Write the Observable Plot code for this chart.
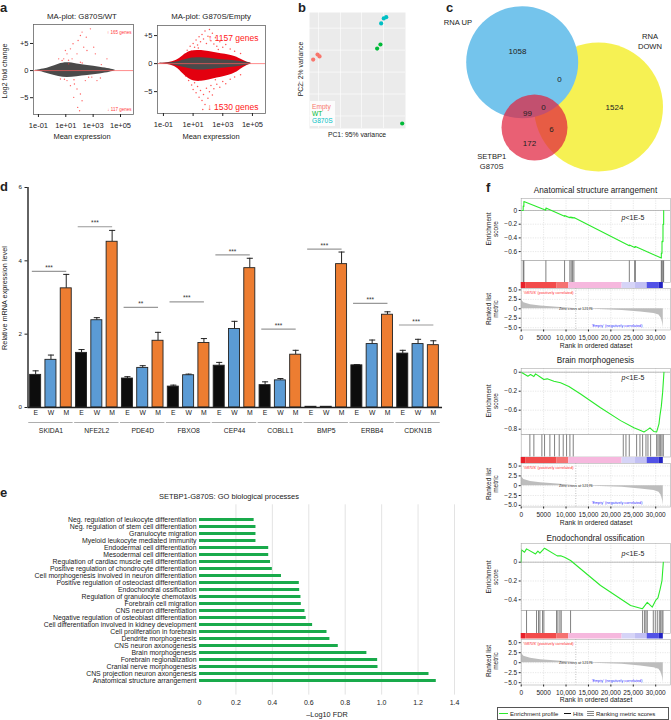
<!DOCTYPE html>
<html><head><meta charset="utf-8">
<script src="https://cdn.jsdelivr.net/npm/d3@7"></script>
<script src="https://cdn.jsdelivr.net/npm/@observablehq/plot@0.6"></script>
<style>
html,body{margin:0;padding:0;background:#fff;}
#root{position:relative;width:671px;height:720px;overflow:hidden;font-family:Arial,"Liberation Sans",Helvetica,sans-serif;color:#222;}
.lbl{position:absolute;white-space:nowrap;line-height:1;}
</style></head><body><div id="root"></div>
<script>
// ---------------- DATA ----------------
// a: MA plots (x = log10 mean expression, y = log2 fold change)
const maLeftLog = [-1.22, -0.6, -0.12, 0.48, 1.09, 1.82, 2.55, 3.53, 4.26, 4.62];
const maLeftHi  = [0.05, 0.25, 0.62, 1.23, 1.54, 1.23, 0.93, 0.62, 0.31, 0.05];
const maLeftLo  = [-0.05, -0.3, -0.74, -1.11, -1.36, -1.11, -0.93, -0.62, -0.31, -0.05];
const maLeftRedLog = [1.53,1.90,2.07,2.19,2.80,1.46,1.09,0.97,1.82,1.34,2.31,2.55,3.04,0.85,0.73,1.63,1.82,2.07,2.19,1.87,1.58,1.09,1.34,2.43,3.28,3.53,3.16,4.01,2.50,0.48,0.61,2.01,2.67,1.21,2.07,1.2,1.6,2.2,2.9,0.9,3.6];
const maLeftRedFC  = [4.94,5.56,6.48,7.1,7.7,2.16,3.09,3.7,3.09,4.01,4.32,3.7,4.32,2.16,1.85,-2.47,-3.40,-4.32,-5.56,-6.79,-4.94,-1.85,-2.78,-1.85,-1.85,-1.36,3.09,2.16,6.17,2.16,-1.54,-7.4,-1.24,1.24,1.54,1.9,-1.7,1.4,-1.2,-1.6,1.1];
const maRightLog    = [-1.42, -0.7, -0.08, 0.3, 0.82, 1.49, 2.62, 3.74, 4.2, 4.6, 4.9];
const maRightRedHi  = [0.03, 0.1, 0.5, 1.4, 2.32, 2.44, 1.85, 1.43, 0.8, 0.3, 0.08];
const maRightRedLo  = [-0.03, -0.1, -0.6, -1.8, -3.04, -3.33, -2.56, -1.96, -1.0, -0.35, -0.08];
const maRightGrayHi = [0.03, 0.08, 0.24, 0.6, 1.0, 1.13, 0.77, 0.54, 0.4, 0.25, 0.06];
const maRightGrayLo = [-0.03, -0.1, -0.36, -0.65, -0.95, -1.25, -0.89, -0.66, -0.45, -0.28, -0.06];
const maRightRedLog = [0.6,0.8,1.0,1.1,1.2,1.3,1.4,1.5,1.6,1.7,1.8,1.9,2.0,2.1,2.2,2.3,2.4,2.5,2.6,2.8,3.0,3.2,3.5,3.8,4.2,0.9,1.35,2.7,
  0.5,0.7,0.9,1.0,1.1,1.2,1.3,1.4,1.5,1.6,1.7,1.8,1.9,2.0,2.1,2.2,2.3,2.4,2.6,2.8,3.0,3.2,3.5,3.8,4.2,1.65,2.5,1.05];
const maRightRedFC  = [2.4,3.1,3.6,2.9,4.2,3.3,4.8,3.9,5.2,4.4,5.8,3.6,4.9,6.1,4.1,5.4,3.5,4.6,3.1,3.9,2.9,3.4,2.6,2.2,1.8,2.2,2.8,2.5,
  -2.2,-3.0,-3.8,-4.6,-3.4,-5.2,-4.1,-6.0,-4.8,-6.6,-5.5,-7.3,-4.4,-6.2,-5.0,-3.9,-5.6,-4.5,-3.7,-4.2,-3.2,-3.6,-2.8,-2.4,-2.0,-8.2,-2.9,-2.6];

// b: PCA
const pcaGroup = ["Empty","Empty","Empty","WT","WT","WT","G870S","G870S","G870S"];
const pc1 = [-65.8, -60.8, -58.5, 7.5, 11.3, 36.2, 12.1, 15.1, 17.9];
const pc2 = [-3.0, -1.4, -2.0, 0.5, 1.8, -23.4, 8.5, 10.1, 10.5];
const pcaGroups = ["Empty","WT","G870S"];
const pcaGridX = [-59.7, -34.5, -10.4, 14.8];
const pcaGridY = [7, 0, -7, -14, -21];

// c: Venn
const vennSets = ["RNA UP", "SETBP1 G870S", "RNA DOWN"];
const vennCounts = [1058, 0, 1524, 99, 0, 6, 172];

// d: qPCR bars
const genes = ["SKIDA1","NFE2L2","PDE4D","FBXO8","CEP44","COBLL1","BMP5","ERBB4","CDKN1B"];
const conditions = ["E","W","M"];
const exprE = [0.89, 1.49, 0.79, 0.57, 1.14, 0.61, 0.02, 1.15, 1.47];
const errE  = [1.00, 1.58, 0.84, 0.61, 1.23, 0.70, 0.02, 1.17, 1.56];
const exprW = [1.30, 2.38, 1.08, 0.88, 2.14, 0.74, 0.02, 1.73, 1.73];
const errW  = [1.43, 2.45, 1.14, 0.91, 2.35, 0.79, 0.02, 1.84, 1.86];
const exprM = [3.25, 4.52, 1.82, 1.76, 3.80, 1.44, 3.91, 2.53, 1.70];
const errM  = [3.63, 4.83, 2.05, 1.88, 4.07, 1.56, 4.24, 2.61, 1.82];
const sigStars = ["***","***","**","***","***","***","***","***","***"];
const sigLevel = [3.71, 4.93, 2.73, 2.88, 4.16, 2.14, 4.32, 2.84, 2.25];

// e: GO terms
const goTerms = ["Neg. regulation of leukocyte differentiation","Neg. regulation of stem cell differentiation","Granulocyte migration","Myeloid leukocyte mediated immunity","Endodermal cell differentiation","Mesodermal cell differentiation","Regulation of cardiac muscle cell differentiation","Positive regulation of chondrocyte differentiation","Cell morphogenesis involved in neuron differentiation","Positive regulation of osteoclast differentiation","Endochondral ossification","Regulation of granulocyte chemotaxis","Forebrain cell migration","CNS neuron differentiation","Negative regulation of osteoblast differentiation","Cell differentiation involved in kidney development","Cell proliferation in forebrain","Dendrite morphogenesis","CNS neuron axonogenesis","Brain morphogenesis","Forebrain regionalization","Cranial nerve morphogenesis","CNS projection neuron axongenesis","Anatomical structure arrangement"];
const goValues = [0.30,0.31,0.31,0.31,0.38,0.38,0.39,0.40,0.45,0.548,0.55,0.557,0.559,0.579,0.586,0.621,0.70,0.716,0.762,0.919,0.978,0.98,1.26,1.30];

// f: GSEA
const gseaTitles = ["Anatomical structure arrangement","Brain morphogenesis","Enodochondral ossification"];
const es1Rank  = [0,440,450,595,600,5500,5510,9670,9680,10860,10870,11160,11170,11460,11470,11750,11760,24120,24130,25310,25320,25460,25470,31250,31260,31400,31410,31620,31630,31770,31780];
const es1Score = [0,0,0.065,0.06,0.13,0.005,0.035,-0.085,-0.075,-0.105,-0.095,-0.107,-0.097,-0.11,-0.1,-0.112,-0.102,-0.515,-0.505,-0.54,-0.53,-0.535,-0.525,-0.695,-0.62,-0.625,-0.45,-0.455,-0.2,-0.205,0];
const hits1 = [446,595,5506,9672,10862,11160,11458,11755,24120,25310,25460,31250,31400,31620,31770];
const es2Rank  = [0,1490,2080,2830,3200,4315,5060,5800,7290,8780,10640,13240,17700,22170,25150,26640,27380,28120,28720,29610,30200,30730,30950,31250,31550,31840];
const es2Score = [0,-0.042,-0.025,-0.046,-0.018,-0.053,-0.077,-0.07,-0.095,-0.112,-0.15,-0.23,-0.375,-0.51,-0.586,-0.614,-0.63,-0.607,-0.586,-0.625,-0.63,-0.544,-0.456,-0.36,-0.21,0];
const hits2 = [1934,2827,4613,5208,6398,7440,8482,9374,10118,10862,11606,22766,23362,24106,25742,26486,27082,27826,28272,28867,30206,30504,30802,31099,31397,31694];
const es3Rank  = [0,80,744,1190,3200,3720,4170,4690,5210,7660,8040,8930,9670,11010,17700,24400,27010,28120,29240,29980,30500,30950,31400,31700];
const es3Score = [0,0.131,0.106,0.142,0.088,0.117,0.096,0.124,0.149,0.078,0.067,0.067,0.053,0.018,-0.248,-0.46,-0.496,-0.428,-0.478,-0.407,-0.379,-0.294,-0.195,0];
const hits3 = [1190,3422,3869,4166,4762,5059,7886,8184,8630,8928,11011,27082,27528,27826,28123,29462,29909,30355,30802,31099,31397,31620];
const metricRank  = [0,595,2083,4315,8035,11755,12176,16000,22540,26635,29610,30730,31250,31545,31690];
const metricValue = [2.4,1.6,1.08,0.75,0.42,0.08,0,-0.12,-0.42,-0.83,-1.25,-1.67,-2.5,-3.75,-5.0];
const zeroCross = 12176;
const bandStart = [0,1000,8000,10600,22500,25500,28100,30800];
const bandEnd   = [1000,8000,10600,22500,25500,28100,30800,31700];
const bandColor = ["#E8202A","#F24B4B","#F57272","#F6B8DE","#D6D4F7","#C2C0F3","#5252E6","#2222C2"];
const rankTicks = [0,5000,10000,15000,20000,25000,30000];
const metricTicks = [5,2.5,0,-2.5,-5];
const metricTickLabels = ["5.0","2.5","0","−2.5","−5.0"];

// ---------------- HELPERS ----------------
const root = document.getElementById("root");
const FONT = 'Arial, "Liberation Sans", Helvetica, sans-serif';
const st = fs => ({background:"transparent", fontFamily:FONT, fontSize:fs+"px", overflow:"visible", color:"#222"});
function place(node, left, top){ node.style.position="absolute"; node.style.left=left+"px"; node.style.top=top+"px"; node.style.overflow="visible"; root.appendChild(node); return node; }
function label(html, x, y, o={}){
  const d=document.createElement("div"); d.className="lbl"; d.innerHTML=html;
  d.style.fontSize=(o.size||7)+"px"; if(o.weight) d.style.fontWeight=o.weight; if(o.color) d.style.color=o.color;
  if(o.lh){ d.style.lineHeight=o.lh; d.style.textAlign="center"; }
  const ax = o.anchor==="start"?"0":o.anchor==="end"?"-100%":"-50%";
  d.style.left=x+"px"; d.style.top=y+"px";
  d.style.transform=`translate(${ax},-50%)`+(o.rotate?` rotate(${o.rotate}deg)`:"");
  root.appendChild(d); return d;
}
const fmtE = d => "1e" + (d<0?"-":"+") + String(Math.abs(d)).padStart(2,"0");
const fmtFC = d => d>0 ? "+"+d : d<0 ? "−"+(-d) : "0";

// ---------------- PANEL a ----------------
const maL = maLeftLog.map((x,i)=>({x, hi:maLeftHi[i], lo:maLeftLo[i]}));
const maLpts = maLeftRedLog.map((x,i)=>({x, y:maLeftRedFC[i]}));
place(Plot.plot({
  width:140, height:145, marginLeft:33, marginRight:7, marginTop:24, marginBottom:31, style:st(7.5),
  x:{domain:[-1.36,5.95]}, y:{domain:[-8.1,8.5]},
  marks:[
    Plot.areaY(maL,{x:"x", y1:"lo", y2:"hi", fill:"#4a4a4a", curve:"basis"}),
    Plot.ruleY([0],{stroke:"#ff5a5a", strokeWidth:0.7}),
    Plot.dot(maLpts,{x:"x", y:"y", r:0.7, fill:"#ff3b3b", fillOpacity:0.8}),
    Plot.frame({stroke:"#666", strokeWidth:0.8}),
    Plot.axisX([-1,1,3,5],{tickFormat:fmtE, tickSize:3, tickPadding:5, fontSize:7.5, label:null}),
    Plot.axisY([-5,0,5],{tickFormat:fmtFC, tickSize:3, tickPadding:2, fontSize:7.5, label:null}),
    Plot.text(["↑ 165 genes"],{text:d=>d, frameAnchor:"top-right", dx:-2, dy:6, fill:"#ff3b3b", fontSize:4.5, textAnchor:"end"}),
    Plot.text(["↓ 117 genes"],{text:d=>d, frameAnchor:"bottom-right", dx:-2, dy:-4, fill:"#ff3b3b", fontSize:4.5, textAnchor:"end"})
  ]}), 0, 0);

const maRr = maRightLog.map((x,i)=>({x, hi:maRightRedHi[i], lo:maRightRedLo[i], ghi:maRightGrayHi[i], glo:maRightGrayLo[i]}));
const maRpts = maRightRedLog.map((x,i)=>({x, y:maRightRedFC[i]}));
place(Plot.plot({
  width:130, height:145, marginLeft:17, marginRight:5, marginTop:25, marginBottom:32, style:st(7.5),
  x:{domain:[-1.40,5.88]}, y:{domain:[-8.9,6.8]},
  marks:[
    Plot.dot(maRpts,{x:"x", y:"y", r:0.75, fill:"#ff2a2a", fillOpacity:0.8}),
    Plot.areaY(maRr,{x:"x", y1:"lo", y2:"hi", fill:"#E3000F", curve:"basis"}),
    Plot.areaY(maRr,{x:"x", y1:"glo", y2:"ghi", fill:"#4a4a4a", curve:"basis"}),
    Plot.ruleY([0],{stroke:"#ff5a5a", strokeWidth:0.7}),
    Plot.frame({stroke:"#666", strokeWidth:0.8}),
    Plot.axisX([-1,1,3,5],{tickFormat:fmtE, tickSize:3, tickPadding:5, fontSize:7.5, label:null}),
    Plot.axisY([-5,0,5],{tickFormat:fmtFC, tickSize:3, tickPadding:2, fontSize:7.5, label:null}),
    Plot.text(["↑ 1157 genes"],{text:d=>d, frameAnchor:"top-right", dx:-7, dy:9, fill:"#ff2020", fontSize:8.5, textAnchor:"end"}),
    Plot.text(["↓ 1530 genes"],{text:d=>d, frameAnchor:"bottom-right", dx:-7, dy:-4, fill:"#ff2020", fontSize:8.5, textAnchor:"end"})
  ]}), 140, 0);

label("a", 0, 7, {size:13, weight:"bold", anchor:"start"});
label("MA-plot: G870S/WT", 82, 17.3, {size:7.8});
label("MA-plot: G870S/Empty", 211, 17.3, {size:7.8});
label("Log2 fold change", 5, 71, {size:7.2, rotate:-90});
label("Mean expression", 82, 136.7, {size:7.5});
label("Mean expression", 211, 136.7, {size:7.5});

// ---------------- PANEL b ----------------
const pca = pc1.map((x,i)=>({pc1:x, pc2:pc2[i], group:pcaGroup[i]}));
place(Plot.plot({
  width:110, height:140, marginLeft:9, marginRight:5, marginTop:12, marginBottom:12, style:st(7),
  x:{domain:[-70,40], axis:null}, y:{domain:[-25,12], axis:null},
  color:{domain:pcaGroups, range:["#F8766D","#00BA38","#00BFC4"]},
  marks:[
    Plot.frame({fill:"#EBEBEB", stroke:null}),
    Plot.ruleX(pcaGridX,{stroke:"white", strokeWidth:0.6}),
    Plot.ruleY(pcaGridY,{stroke:"white", strokeWidth:0.6}),
    Plot.dot(pca,{x:"pc1", y:"pc2", fill:"group", r:2.1})
  ]}), 300, 0);
const lg = document.createElement("div");
Object.assign(lg.style,{position:"absolute", left:"310px", top:"101px", width:"25px", height:"25px", background:"rgba(255,255,255,0.85)"});
root.appendChild(lg);
label("Empty", 312, 106.7, {size:6.6, anchor:"start", color:"#F8766D"});
label("WT", 312, 114, {size:6.6, anchor:"start", color:"#00BA38"});
label("G870S", 312, 121, {size:6.6, anchor:"start", color:"#00BFC4"});
label("b", 298, 7, {size:13, weight:"bold", anchor:"start"});
label("PC2: 2% variance", 301, 69, {size:6.8, rotate:-90});
label("PC1: 95% variance", 357, 135, {size:6.8});

// ---------------- PANEL c ----------------
const vennCircleX = [81.7, 94, 158], vennCircleY = [61.7, 127, 106.5], vennCircleR = [56, 33, 64.5];
const vennFill = ["#74C4EC", "#E1233F", "#F4EE28"], vennOpacity = [1, 0.72, 0.8];
const venn = vennSets.map((s,i)=>({set:s, cx:vennCircleX[i], cy:vennCircleY[i], r:vennCircleR[i], fill:vennFill[i], op:vennOpacity[i]}));
const vennCountX = [77,119,174,87,103,111,89], vennCountY = [51,79,107,113,107,129,143];
const vennText = vennCounts.map((c,i)=>({c, x:vennCountX[i], y:vennCountY[i]}));
place(Plot.plot({
  width:231, height:175, margin:0, style:st(8),
  x:{domain:[0,231], range:[0,231], axis:null}, y:{domain:[0,175], range:[0,175], axis:null},
  r:{type:"identity"}, color:{type:"identity"}, opacity:{type:"identity"},
  marks:[
    Plot.dot(venn,{x:"cx", y:"cy", r:"r", fill:"fill", fillOpacity:"op", stroke:null}),
    Plot.text(vennText,{x:"x", y:"y", text:d=>String(d.c), fontSize:8, fill:"#222"})
  ]}), 440, 0);
label("c", 446, 7, {size:13, weight:"bold", anchor:"start"});
label("RNA UP", 458, 23.3, {size:7.6});
label("RNA<br>DOWN", 650, 41.7, {size:7.6, lh:"1.3"});
label("SETBP1<br>G870S", 491.7, 161.2, {size:7.6, lh:"1.25"});

// ---------------- PANEL d ----------------
const bars = [];
genes.forEach((g,gi)=>{
  [exprE,exprW,exprM].forEach((arr,ci)=>{
    bars.push({i:gi*3+ci, gene:g, cond:conditions[ci], val:arr[gi], err:[errE,errW,errM][ci][gi]});
  });
});
const errBars = bars.filter(d=>d.err>d.val+0.005);
const sig = genes.map((g,gi)=>({x1:gi*3-0.25, x2:gi*3+2, level:sigLevel[gi], stars:sigStars[gi]}));
place(Plot.plot({
  width:445, height:262, marginLeft:27.5, marginRight:4.5, marginTop:7, marginBottom:35, style:st(6.5),
  x:{domain:[-0.5,26.5], axis:null}, y:{domain:[0,6]},
  color:{domain:conditions, range:["#0d0d0d","#5B9BD5","#ED7D31"]},
  marks:[
    Plot.ruleX(errBars,{x:"i", y1:"val", y2:"err", stroke:"#222", strokeWidth:1}),
    Plot.link(errBars,{x1:d=>d.i-0.2, x2:d=>d.i+0.2, y1:"err", y2:"err", stroke:"#222", strokeWidth:1}),
    Plot.rectY(bars,{x1:d=>d.i-0.36, x2:d=>d.i+0.36, y1:0, y2:"val", fill:"cond", stroke:"#222", strokeWidth:0.9}),
    Plot.ruleY([0],{x1:-0.5, x2:26.6, stroke:"#222", strokeWidth:1.4}),
    Plot.ruleX([-0.5],{y1:0, y2:6, stroke:"#222", strokeWidth:1.4}),
    Plot.axisY([0,2,4,6],{tickSize:3, tickPadding:3, fontSize:6.2, label:null, tickFormat:d=>String(d)}),
    Plot.text(bars,{x:"i", text:"cond", frameAnchor:"bottom", dy:7, fontSize:6.8}),
    Plot.ruleY(genes,{y:0, x1:(d,gi)=>gi*3-0.45, x2:(d,gi)=>gi*3+2.45, dy:15, stroke:"#999", strokeWidth:0.8}),
    Plot.text(genes,{x:(d,gi)=>gi*3+1, text:d=>d, frameAnchor:"bottom", dy:25, fontSize:6.8}),
    Plot.link(sig,{x1:"x1", x2:"x2", y1:"level", y2:"level", stroke:"#999", strokeWidth:1.2}),
    Plot.text(sig,{x:d=>(d.x1+d.x2)/2, y:"level", text:"stars", dy:-3.5, fontSize:6.5, fill:"#333"})
  ]}), 0, 180);
label("d", 0, 186, {size:13, weight:"bold", anchor:"start"});
label("Relative mRNA expression level", 5, 297.5, {size:7.3, rotate:-90});

// ---------------- PANEL e ----------------
const go = goTerms.map((t,i)=>({term:t, value:goValues[i]}));
place(Plot.plot({
  width:465, height:230, marginLeft:199, marginRight:11, marginTop:14.3, marginBottom:25.4, style:st(6.9),
  x:{domain:[0,1.4]}, y:{domain:goTerms, paddingInner:0.62, paddingOuter:0.31},
  marks:[
    Plot.ruleX([0.2,0.4,0.6,0.8,1.0,1.2,1.4],{stroke:"#dcdcdc", strokeWidth:0.8}),
    Plot.barX(go,{y:"term", x:"value", fill:"#19AA4B"}),
    Plot.axisY({tickSize:0, tickPadding:3, fontSize:6.9, label:null, fill:"#222"}),
    Plot.axisX([0,0.2,0.4,0.6,0.8,1.0,1.2,1.4],{tickSize:0, tickPadding:4.6, fontSize:7, label:null, tickFormat:d=>d===0?"0":d.toFixed(1)})
  ]}), 0, 490);
label("e", 0, 492, {size:13, weight:"bold", anchor:"start"});
label("SETBP1-G870S: GO biological processes", 229, 496.7, {size:7.5});
label("–Log10 FDR", 327, 715, {size:7.3});

// ---------------- PANEL f ----------------
const W = 231, ML = 80.7, MR = 1, X0 = 440;
const xDom = [0, 33300];
const rankFmt = d => d < 10000 ? String(d) : d3.format(",")(d);
const bands = bandStart.map((a,i)=>({a, b:bandEnd[i], c:bandColor[i]}));
const metric = metricRank.map((r,i)=>({r, m:metricValue[i]}));
const gseaLayout = [
  {rank:es1Rank, score:es1Score, hits:hits1, titleY:191, esTop:198, esBottom:260, hitsBottom:282, cbBottom:288, mBottom:329.5,
   esDomain:[-0.73,0.175], esTicks:[0,-0.2,-0.4,-0.6], esLabels:["0","−0.2","−0.4","−0.6"], mDomain:[-5.61,5.37], pY:216.7, rankY:346},
  {rank:es2Rank, score:es2Score, hits:hits2, titleY:361, esTop:368, esBottom:434, hitsBottom:456.5, cbBottom:462.5, mBottom:506,
   esDomain:[-0.656,0.039], esTicks:[0,-0.2,-0.4,-0.6], esLabels:["0","−0.2","−0.6","−0.8"], mDomain:[-5.42,5.65], pY:377.3, rankY:523.3},
  {rank:es3Rank, score:es3Score, hits:hits3, titleY:539, esTop:543, esBottom:610, hitsBottom:633, cbBottom:638.5, mBottom:684,
   esDomain:[-0.514,0.199], esTicks:[0,-0.2,-0.4], esLabels:["0","−0.2","−0.4"], mDomain:[-5.58,5.8], pY:553.3, rankY:700}
];
const dash = {stroke:"#cfcfcf", strokeDasharray:"1.2,1.2", strokeWidth:0.5};
gseaLayout.forEach((g, k) => {
  const es = g.rank.map((r,i)=>({r, s:g.score[i]}));
  place(Plot.plot({
    width:W, height:g.esBottom-g.esTop, marginLeft:ML, marginRight:MR, marginTop:0, marginBottom:0, style:st(6.5),
    x:{domain:xDom, axis:null}, y:{domain:g.esDomain},
    marks:[
      Plot.ruleX(rankTicks, dash),
      Plot.ruleY(g.esTicks, dash),
      Plot.ruleY([0],{stroke:"#aaa", strokeWidth:0.8}),
      Plot.line(es,{x:"r", y:"s", stroke:"#2BEA2B", strokeWidth:1.1}),
      Plot.frame({stroke:"#aaa", strokeWidth:0.6}),
      Plot.axisY(g.esTicks,{tickFormat:d=>g.esLabels[g.esTicks.indexOf(d)], tickSize:2, tickPadding:2, fontSize:6.5, label:null})
    ]}), X0, g.esTop);
  place(Plot.plot({
    width:W, height:g.hitsBottom-g.esBottom, marginLeft:ML, marginRight:MR, marginTop:0, marginBottom:0, style:st(6.5),
    x:{domain:xDom, axis:null},
    marks:[
      Plot.ruleX(g.hits,{stroke:"#4a4a4a", strokeWidth:0.7}),
      Plot.frame({stroke:"#aaa", strokeWidth:0.6})
    ]}), X0, g.esBottom);
  place(Plot.plot({
    width:W, height:g.cbBottom-g.hitsBottom, marginLeft:ML, marginRight:MR, marginTop:0, marginBottom:0, style:st(6.5),
    x:{domain:xDom, axis:null}, color:{type:"identity"},
    marks:[ Plot.barX(bands,{x1:"a", x2:"b", fill:"c"}) ]}), X0, g.hitsBottom);
  place(Plot.plot({
    width:W, height:(g.mBottom-g.cbBottom)+12, marginLeft:ML, marginRight:MR, marginTop:0, marginBottom:12, style:st(6.5),
    x:{domain:xDom}, y:{domain:g.mDomain},
    marks:[
      Plot.ruleX(rankTicks, dash),
      Plot.ruleY(metricTicks, dash),
      Plot.areaY(metric,{x:"r", y:"m", fill:"#bdbdbd"}),
      Plot.ruleX([zeroCross],{stroke:"#999", strokeDasharray:"1,1.5", strokeWidth:0.6}),
      Plot.frame({stroke:"#aaa", strokeWidth:0.6}),
      Plot.text(["'G870S' (positively correlated)"],{text:d=>d, frameAnchor:"top-left", dx:2, dy:2.5, fill:"#ff3030", fontSize:3.8, textAnchor:"start"}),
      Plot.text(["Zero cross at " + zeroCross],{text:d=>d, x:zeroCross, y:0, fontSize:3.8, fill:"#333"}),
      Plot.text(["'Empty' (negatively correlated)"],{text:d=>d, frameAnchor:"bottom-right", dx:-28, dy:-3, fill:"#3030ff", fontSize:3.8, textAnchor:"end"}),
      Plot.axisY(metricTicks,{tickFormat:d=>metricTickLabels[metricTicks.indexOf(d)], tickSize:2, tickPadding:2, fontSize:6.5, label:null}),
      Plot.axisX(rankTicks,{tickFormat:rankFmt, tickSize:2, tickPadding:3, fontSize:6.5, label:null})
    ]}), X0, g.cbBottom);
  label(gseaTitles[k], 595.5, g.titleY, {size:8.2});
  label("Enrichment<br>score", 492, (g.esTop+g.esBottom)/2, {size:6.5, rotate:-90, lh:"1.1"});
  label("Ranked list<br>metric", 492, (g.cbBottom+g.mBottom)/2, {size:6.5, rotate:-90, lh:"1.1"});
  label("<i>p</i>&lt;1E-5", 633, g.pY, {size:7});
  label("Rank in ordered dataset", 596, g.rankY, {size:6.8});
});
label("f", 486, 187, {size:13, weight:"bold", anchor:"start"});

// GSEA legend
const box = document.createElement("div");
Object.assign(box.style,{position:"absolute", left:"497px", top:"707px", width:"172px", height:"13px", border:"0.8px solid #555", boxSizing:"border-box"});
root.appendChild(box);
function seg(x, y, w, h, c){ const s=document.createElement("div"); Object.assign(s.style,{position:"absolute", left:x+"px", top:y+"px", width:w+"px", height:h+"px", background:c}); root.appendChild(s); }
seg(499, 713, 9, 1.4, "#2BEA2B");
label("Enrichment profile", 510, 713.8, {size:6, anchor:"start"});
seg(564, 713, 7, 1.4, "#111");
label("Hits", 573, 713.8, {size:6, anchor:"start"});
seg(587, 711, 7, 0.8, "#888"); seg(587, 713, 7, 0.8, "#888"); seg(587, 715, 7, 0.8, "#888");
label("Ranking metric scores", 596, 713.8, {size:6, anchor:"start"});
</script></body></html>
